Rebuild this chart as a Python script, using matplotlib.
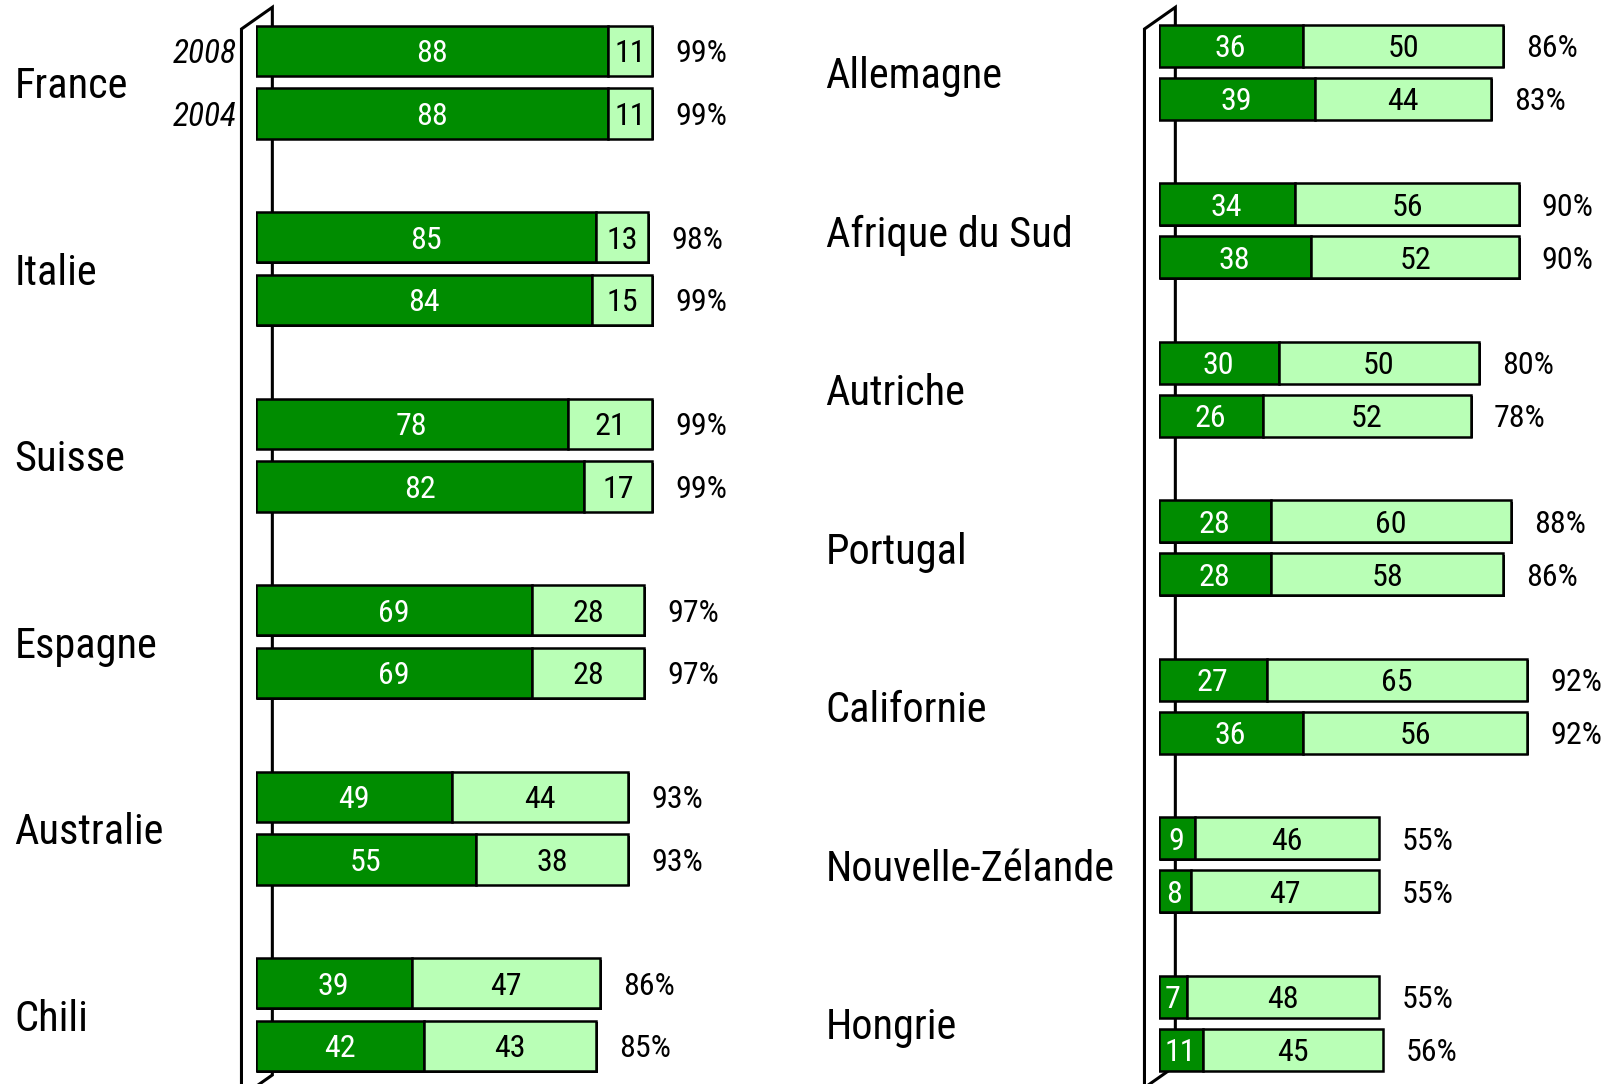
import matplotlib
matplotlib.use('Agg')
import matplotlib.pyplot as plt
from matplotlib import transforms
from matplotlib import font_manager as fm

# --- data ---
left_countries = ['France', 'Italie', 'Suisse', 'Espagne', 'Australie', 'Chili']
left_dark_2008 = [88, 85, 78, 69, 49, 39]
left_light_2008 = [11, 13, 21, 28, 44, 47]
left_total_2008 = [99, 98, 99, 97, 93, 86]
left_dark_2004 = [88, 84, 82, 69, 55, 42]
left_light_2004 = [11, 15, 17, 28, 38, 43]
left_total_2004 = [99, 99, 99, 97, 93, 85]

right_countries = ['Allemagne', 'Afrique du Sud', 'Autriche', 'Portugal',
                   'Californie', 'Nouvelle-Zélande', 'Hongrie']
right_dark_2008 = [36, 34, 30, 28, 27, 9, 7]
right_light_2008 = [50, 56, 50, 60, 65, 46, 48]
right_total_2008 = [86, 90, 80, 88, 92, 55, 55]
right_dark_2004 = [39, 38, 26, 28, 36, 8, 11]
right_light_2004 = [44, 52, 52, 58, 56, 47, 45]
right_total_2004 = [83, 90, 78, 86, 92, 55, 56]

years = ['2008', '2004']


def condensed_font(style):
    # look for a narrow / condensed face among the installed fonts
    prefs = ['Liberation Sans Narrow', 'Arial Narrow', 'Roboto Condensed',
             'DejaVu Sans', 'Noto Sans', 'Open Sans']
    found = []
    for f in fm.fontManager.ttflist:
        narrow = ('condensed' in str(f.stretch) or 'Narrow' in f.name
                  or 'Condensed' in f.name)
        w = f.weight if isinstance(f.weight, int) else 400
        if narrow and f.style == style and w in (400, 'normal') and 'extra' not in str(f.stretch) \
                and 'ultra' not in str(f.stretch):
            rank = prefs.index(f.name) if f.name in prefs else len(prefs)
            found.append((rank, f.fname))
    if found:
        found.sort()
        return fm.FontProperties(fname=found[0][1]), True
    return fm.FontProperties(family=['Liberation Sans', 'DejaVu Sans'], style=style), False


FONT, IS_NARROW = condensed_font('normal')
FONT_IT, _ = condensed_font('italic')
if not _:
    FONT_IT = FONT.copy()
    FONT_IT.set_style('italic')

BIG = 30.5 if IS_NARROW else 26.5
SMALL = 23 if IS_NARROW else 19.5
YEAR = 24 if IS_NARROW else 20

DARK = '#008c00'
LIGHT = '#b9ffb6'
W, H = 1610, 1084
PX = 4.01  # pixels per percentage point

fig = plt.figure(figsize=(W / 100, H / 100), dpi=100)


def panel(x0, xmax, first, pitch, within, bar_h, countries, rows, label_x,
          wall_bottom, show_years):
    ax = fig.add_axes([x0 / W, 0, xmax * PX / W, 1])
    ax.set_xlim(0, xmax)
    ax.set_ylim(H, 0)
    ax.axis('off')

    # the little 3D wall on the left
    fx, bx = -3.5, 4.2
    ax.plot([fx, fx, bx, bx, fx], [H + 40, 29, 7.3, wall_bottom, wall_bottom + 21.7],
            color='black', lw=2.2, zorder=1, clip_on=False, solid_joinstyle='miter')

    n = len(countries)
    for j, (dark, light, total) in enumerate(rows):
        ys = [first + i * pitch + j * within for i in range(n)]
        tot = [d + l for d, l in zip(dark, light)]
        # thin drop shadow on the right / bottom
        ax.barh([y + 1.5 for y in ys], tot, left=0.35, height=bar_h, color='black',
                lw=0, zorder=2)
        ax.barh(ys, dark, height=bar_h, color=DARK, edgecolor='black', lw=1.8, zorder=3)
        ax.barh(ys, light, left=dark, height=bar_h, color=LIGHT, edgecolor='black',
                lw=1.8, zorder=3)
        for y, d, l, t in zip(ys, dark, light, total):
            ax.text(d / 2, y, str(d), color='white', fontproperties=FONT, fontsize=SMALL,
                    ha='center', va='center_baseline', zorder=4)
            ax.text(d + l / 2, y, str(l), color='black', fontproperties=FONT, fontsize=SMALL,
                    ha='center', va='center_baseline', zorder=4)
            ax.text(d + l + 5.6, y, f'{t}%', color='black', fontproperties=FONT,
                    fontsize=SMALL, ha='left', va='center_baseline', zorder=4)
        if show_years:
            ax.text(-4.6, ys[0], years[j], fontproperties=FONT_IT, fontsize=YEAR,
                    ha='right', va='center_baseline')

    trans = transforms.blended_transform_factory(fig.transFigure, ax.transData)
    for i, c in enumerate(countries):
        yc = first + i * pitch + within / 2
        ax.text(label_x / W, yc, c, transform=trans, fontproperties=FONT, fontsize=BIG,
                ha='left', va='center_baseline')
    return ax


panel(255.5, 130, 50.8, 186.5, 62.6, 50.3, left_countries,
      [(left_dark_2008, left_light_2008, left_total_2008),
       (left_dark_2004, left_light_2004, left_total_2004)],
      14.5, 1075, True)

panel(1158.5, 110, 45.7, 158.5, 52.9, 42.1, right_countries,
      [(right_dark_2008, right_light_2008, right_total_2008),
       (right_dark_2004, right_light_2004, right_total_2004)],
      825.5, 1066, False)

fig.savefig('out.png', dpi=100)
